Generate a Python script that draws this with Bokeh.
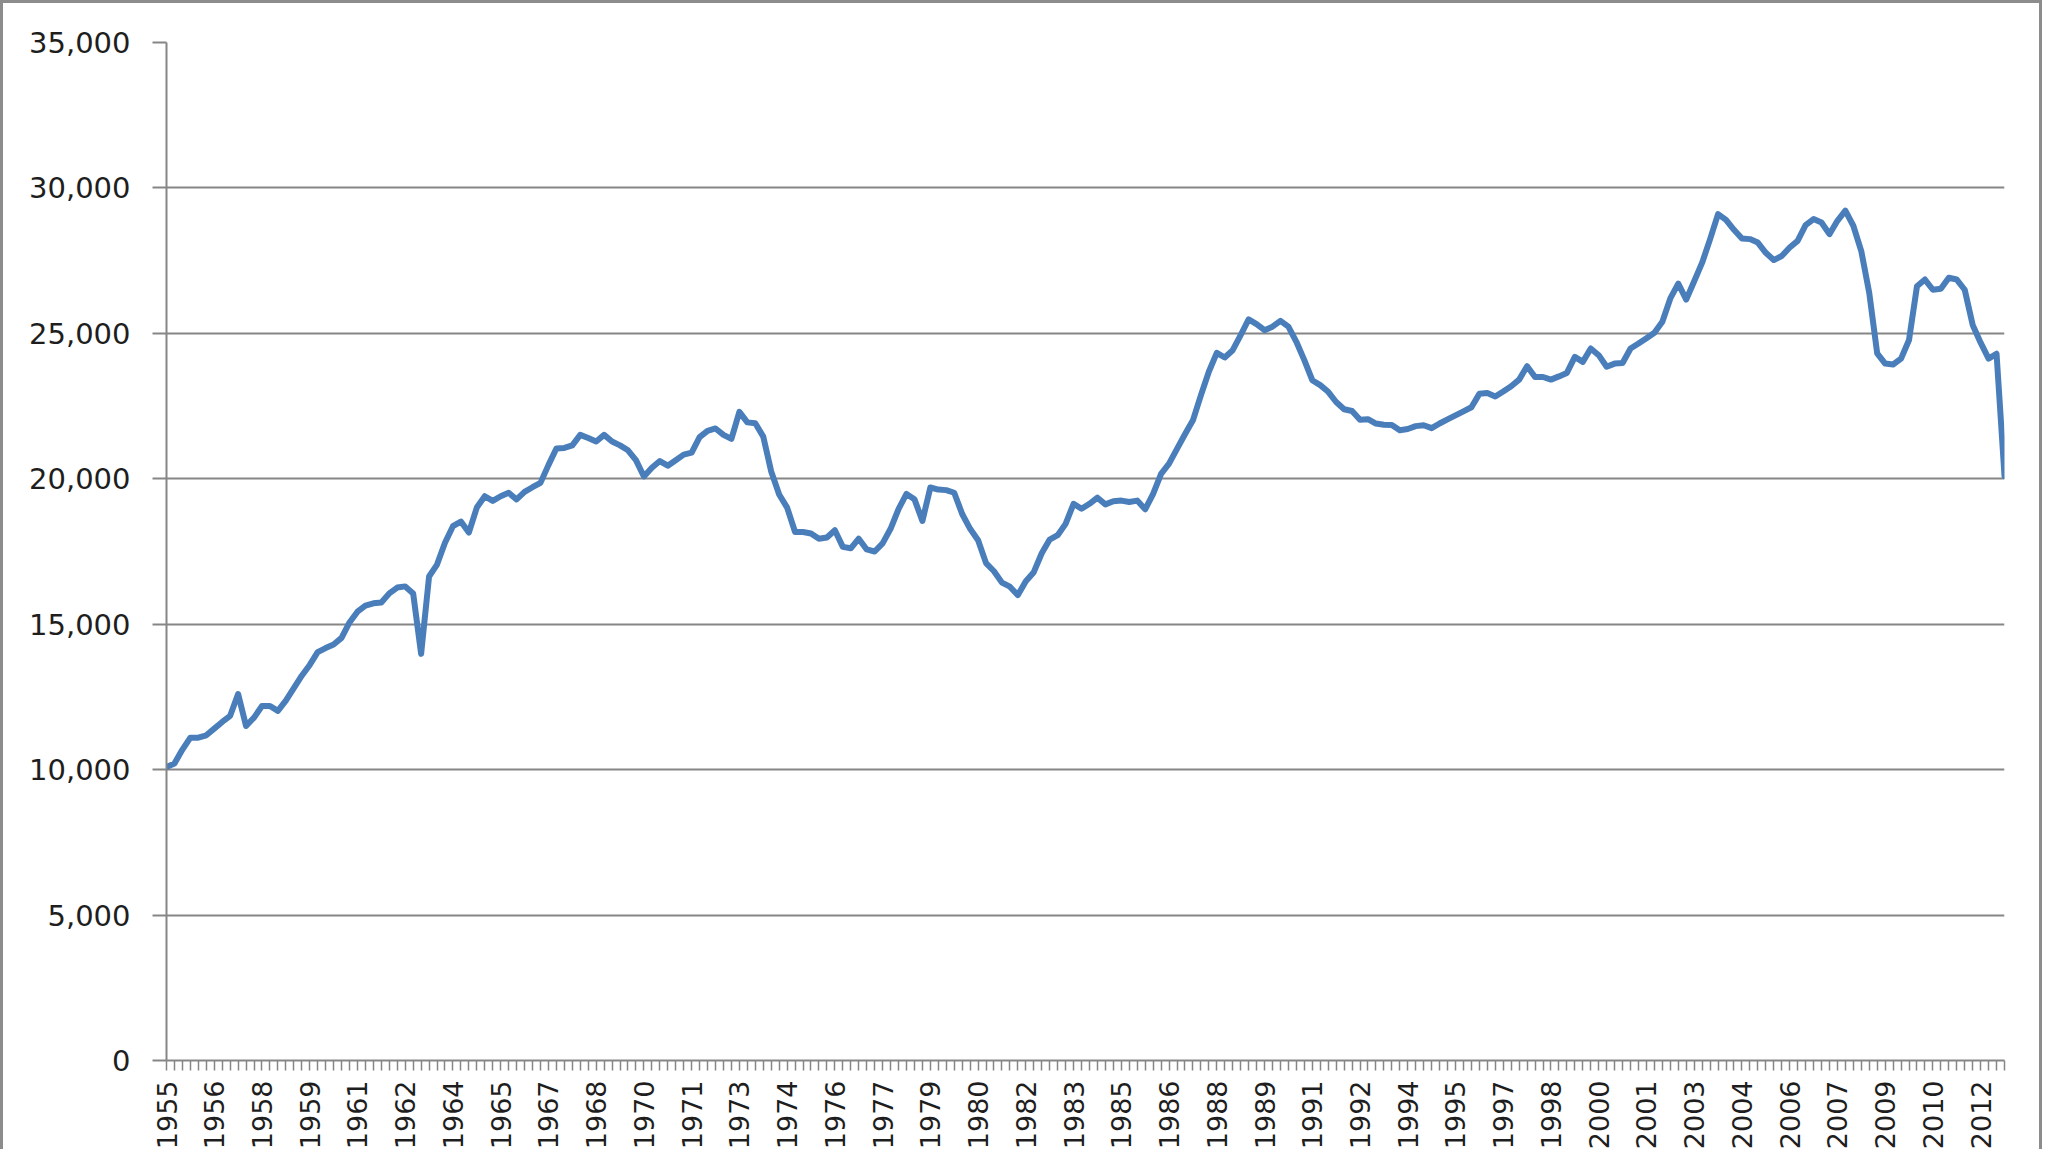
import math
from bokeh.plotting import figure
from bokeh.models import Range1d, FixedTicker, NumeralTickFormatter
from bokeh.embed import file_html
from bokeh.resources import INLINE

# Quarterly series, 1955 Q1 .. 2012 Q4 (one value per quarter)
values = [
    10090, 10210, 10690, 11100, 11100, 11180, 11410, 11640, 11850, 12600,
    11500, 11790, 12190, 12190, 12020, 12370, 12800, 13230, 13600, 14040,
    14180, 14300, 14530, 15060, 15430, 15640, 15720, 15750, 16060, 16260,
    16300, 16060, 13980, 16640, 17050, 17800, 18370, 18530, 18150, 19010,
    19400, 19240, 19400, 19520, 19290, 19550, 19710, 19860, 20470, 21040,
    21060, 21150, 21510, 21400, 21280, 21510, 21280, 21150, 20980, 20640,
    20080, 20380, 20610, 20450, 20640, 20830, 20900, 21430, 21650, 21730,
    21510, 21370, 22300, 21940, 21910, 21450, 20250, 19460, 19010, 18170,
    18170, 18120, 17940, 17980, 18230, 17660, 17610, 17940, 17570, 17500,
    17780, 18280, 18960, 19480, 19300, 18550, 19700, 19630, 19610, 19520,
    18790, 18280, 17890, 17100, 16820, 16430, 16290, 16000, 16480, 16790,
    17440, 17910, 18060, 18450, 19140, 18970, 19140, 19350, 19120, 19230,
    19250, 19200, 19250, 18950, 19480, 20170, 20520, 21030, 21530, 22010,
    22870, 23680, 24330, 24170, 24420, 24940, 25480, 25320, 25110, 25230,
    25430, 25230, 24710, 24080, 23390, 23220, 22990, 22640, 22390, 22330,
    22030, 22050, 21900, 21860, 21850, 21670, 21710, 21810, 21840, 21740,
    21900, 22040, 22180, 22320, 22460, 22920, 22950, 22830, 23000, 23180,
    23410, 23870, 23500, 23500, 23410, 23520, 23640, 24190, 24020, 24480,
    24250, 23850, 23960, 23980, 24480, 24650, 24830, 25020, 25400, 26200,
    26710, 26160, 26790, 27430, 28240, 29100, 28900, 28560, 28260, 28240,
    28120, 27770, 27520, 27660, 27950, 28180, 28720, 28930, 28810, 28410,
    28870, 29220, 28700, 27830, 26390, 24310, 23960, 23930, 24130, 24770,
    26620, 26850, 26500, 26530, 26910, 26850, 26500, 25290, 24680, 24130,
    24300, 20100,
]

# category labels shown every sixth quarter
tick_labels = [
    "1955", "1956", "1958", "1959", "1961", "1962", "1964", "1965", "1967",
    "1968", "1970", "1971", "1973", "1974", "1976", "1977", "1979", "1980",
    "1982", "1983", "1985", "1986", "1988", "1989", "1991", "1992", "1994",
    "1995", "1997", "1998", "2000", "2001", "2003", "2004", "2006", "2007",
    "2009", "2010", "2012",
]
label_every = 6

y_ticks = [0, 5000, 10000, 15000, 20000, 25000, 30000, 35000]

x = list(range(len(values)))

frame_gray = "#8c8c8c"
p = figure(
    width=2042, height=1149,
    output_backend="svg", toolbar_location=None,
    x_range=Range1d(0, len(values) - 1),
    y_range=Range1d(0, 35000),
    min_border_left=163, min_border_top=39,
    min_border_right=41, min_border_bottom=88,
    styles={
        "border-left": f"3px solid {frame_gray}",
        "border-top": f"3px solid {frame_gray}",
        "border-right": f"3px solid {frame_gray}",
    },
)
p.outline_line_color = None
p.background_fill_color = "white"
p.border_fill_color = "white"

p.line(x, values, line_color="#4a7ebb", line_width=6, line_join="round", line_cap="round")

font = "DejaVu Sans"
axis_gray = "#868686"
text_col = "#1e1e1e"

# y axis
p.yaxis.ticker = FixedTicker(ticks=y_ticks)
p.yaxis.formatter = NumeralTickFormatter(format="0,0")
p.yaxis.major_label_text_font = font
p.yaxis.major_label_text_font_size = "29px"
p.yaxis.major_label_text_color = text_col
p.yaxis.major_label_standoff = 22
p.yaxis.axis_line_color = axis_gray
p.yaxis.axis_line_width = 2
p.yaxis.major_tick_line_color = axis_gray
p.yaxis.major_tick_line_width = 2
p.yaxis.major_tick_out = 14
p.yaxis.major_tick_in = 0
p.yaxis.minor_tick_line_color = None

# x axis (category axis with a tick per quarter)
p.xaxis.ticker = FixedTicker(ticks=x)
overrides = {}
for k, lab in enumerate(tick_labels):
    overrides[k * label_every] = lab
for i in x:
    if i not in overrides:
        overrides[i] = ""
p.xaxis.major_label_overrides = overrides
p.xaxis.major_label_orientation = math.pi / 2
p.xaxis.major_label_text_font = font
p.xaxis.major_label_text_font_size = "27px"
p.xaxis.major_label_text_color = text_col
p.xaxis.major_label_standoff = 10
p.xaxis.axis_line_color = axis_gray
p.xaxis.axis_line_width = 2
p.xaxis.major_tick_line_color = axis_gray
p.xaxis.major_tick_line_width = 1.5
p.xaxis.major_tick_out = 10
p.xaxis.major_tick_in = 0
p.xaxis.minor_tick_line_color = None

p.xgrid.grid_line_color = None
p.ygrid.ticker = FixedTicker(ticks=y_ticks)
p.ygrid.grid_line_color = axis_gray
p.ygrid.grid_line_width = 2

open("out.html", "w").write(file_html(p, INLINE))
